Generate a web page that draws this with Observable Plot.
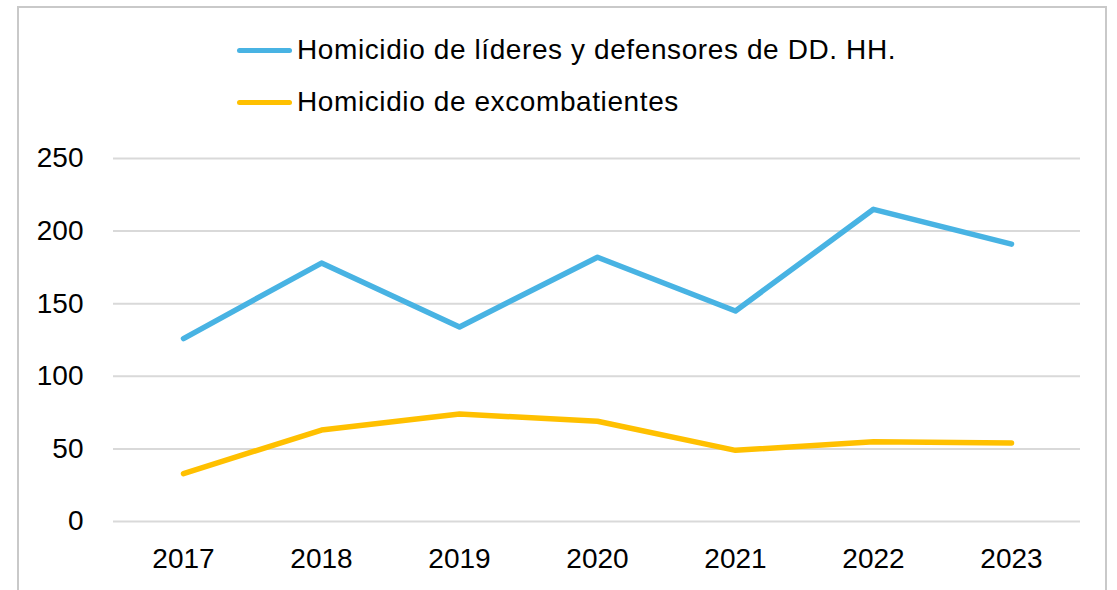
<!DOCTYPE html>
<html>
<head>
<meta charset="utf-8">
<script src="https://cdn.jsdelivr.net/npm/d3@7"></script>
<script src="https://cdn.jsdelivr.net/npm/@observablehq/plot@0.6"></script>
<style>
  html, body { margin: 0; padding: 0; background: #ffffff; }
  body { width: 1117px; height: 590px; overflow: hidden; position: relative;
         font-family: "Liberation Sans", Arial, sans-serif; }
  #frame { position: absolute; left: 17px; top: 6px; width: 1090px; height: 600px;
           border: 2px solid #c9c9c9; box-sizing: border-box; }
  #legend { position: absolute; left: 237px; top: 24px; }
  .item { display: flex; align-items: center; height: 52px; font-size: 28px; letter-spacing: 0.6px; color: #000; }
  .sw { width: 55px; height: 5px; border-radius: 3px; margin-right: 5px; }
  #chart { position: absolute; left: 0; top: 130px; }
</style>
</head>
<body>
<div id="frame"></div>
<div id="legend"></div>
<div id="chart"></div>
<script>
const years = ["2017", "2018", "2019", "2020", "2021", "2022", "2023"];
const lideres = [126, 178, 134, 182, 145, 215, 191];
const excombatientes = [33, 63, 74, 69, 49, 55, 54];
const seriesNames = ["Homicidio de líderes y defensores de DD. HH.", "Homicidio de excombatientes"];
const seriesColors = ["#48B3E3", "#FFC000"];
const yTicks = [0, 50, 100, 150, 200, 250];

const data = [];
years.forEach((y, i) => data.push({year: y, value: lideres[i], series: seriesNames[0]}));
years.forEach((y, i) => data.push({year: y, value: excombatientes[i], series: seriesNames[1]}));

const legend = document.getElementById("legend");
seriesNames.forEach((name, i) => {
  const item = document.createElement("div");
  item.className = "item";
  const sw = document.createElement("span");
  sw.className = "sw";
  sw.style.background = seriesColors[i];
  const label = document.createElement("span");
  label.textContent = name;
  item.appendChild(sw);
  item.appendChild(label);
  legend.appendChild(item);
});

const chart = Plot.plot({
  width: 1117,
  height: 460,
  marginLeft: 113,
  marginRight: 37,
  marginTop: 28,
  marginBottom: 69,
  style: {fontFamily: '"Liberation Sans", Arial, sans-serif', fontSize: "28px", color: "#000", background: "transparent"},
  x: {type: "point", domain: years, padding: 0.5, label: null},
  y: {domain: [0, 250], ticks: yTicks, label: null},
  color: {domain: seriesNames, range: seriesColors},
  marks: [
    Plot.gridY(yTicks, {stroke: "#d9d9d9", strokeOpacity: 1, strokeWidth: 2}),
    Plot.axisY(yTicks, {tickSize: 0, tickPadding: 30, label: null, fontSize: 28}),
    Plot.axisX({tickSize: 0, tickPadding: 27, label: null, fontSize: 28}),
    Plot.line(data, {x: "year", y: "value", z: "series", stroke: "series", strokeWidth: 5.5, strokeLinecap: "round", strokeLinejoin: "round"})
  ]
});
document.getElementById("chart").appendChild(chart);
</script>
</body>
</html>
